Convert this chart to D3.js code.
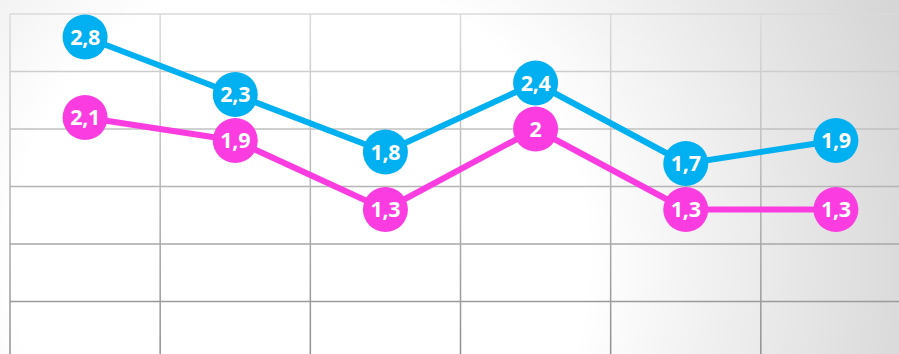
<!DOCTYPE html>
<html>
<head>
<meta charset="utf-8">
<script src="https://cdn.jsdelivr.net/npm/d3@7"></script>
<style>
  html, body { margin: 0; padding: 0; background: #fff; }
  svg { display: block; }
</style>
</head>
<body>
<svg id="chart" width="899" height="354"></svg>
<script>
// Six periods, two series
const categories = ["P1", "P2", "P3", "P4", "P5", "P6"];
const seriesBlue = [2.8, 2.3, 1.8, 2.4, 1.7, 1.9];
const seriesPink = [2.1, 1.9, 1.3, 2.0, 1.3, 1.3];
const gridValues = [0.5, 1, 1.5, 2, 2.5, 3];

const W = 899, H = 354;
const svg = d3.select("#chart");
const defs = svg.append("defs");

// soft vignette behind the plot
const bg = defs.append("radialGradient")
  .attr("id", "bg").attr("gradientUnits", "userSpaceOnUse")
  .attr("cx", 300).attr("cy", 260).attr("r", 640);
bg.append("stop").attr("offset", "0.45").attr("stop-color", "#ffffff");
bg.append("stop").attr("offset", "1").attr("stop-color", "#d6d6d6");
svg.append("rect").attr("width", W).attr("height", H).attr("fill", "url(#bg)");

// grid lines darken toward the bottom
const gv = defs.append("linearGradient")
  .attr("id", "gv").attr("gradientUnits", "userSpaceOnUse")
  .attr("x1", 0).attr("y1", 14).attr("x2", 0).attr("y2", 354);
gv.append("stop").attr("offset", "0").attr("stop-color", "#dcdcdc");
gv.append("stop").attr("offset", "1").attr("stop-color", "#8f8f8f");

const x = d3.scaleBand().domain(categories).range([10, 911]);
const y = d3.scaleLinear().domain([0, 3]).range([359, 14]);
const gridColor = d3.scaleLinear().domain([3, 0.5]).range(["#dadada", "#9a9a9a"]);

const grid = svg.append("g");
grid.selectAll("line.h").data(gridValues).join("line")
  .attr("class", "h")
  .attr("x1", 10).attr("x2", W)
  .attr("y1", d => y(d)).attr("y2", d => y(d))
  .attr("stroke", d => gridColor(d)).attr("stroke-width", 1.5);
grid.selectAll("line.v").data(categories).join("line")
  .attr("class", "v")
  .attr("x1", d => x(d)).attr("x2", d => x(d))
  .attr("y1", y(3)).attr("y2", H)
  .attr("stroke", "url(#gv)").attr("stroke-width", 1.5);

const fmt = d3.formatLocale({ decimal: ",", thousands: ".", grouping: [3], currency: ["", ""] }).format("~g");

const line = d3.line()
  .x((d, i) => x(categories[i]) + x.bandwidth() / 2)
  .y(d => y(d));

function drawSeries(values, color) {
  const g = svg.append("g");
  g.append("path").datum(values)
    .attr("d", line)
    .attr("fill", "none")
    .attr("stroke", color)
    .attr("stroke-width", 6)
    .attr("stroke-linejoin", "round");
  const pts = g.selectAll("g.pt").data(values).join("g")
    .attr("class", "pt")
    .attr("transform", (d, i) => `translate(${x(categories[i]) + x.bandwidth() / 2},${y(d)})`);
  pts.append("circle").attr("r", 22.5).attr("fill", color);
  pts.append("text")
    .attr("text-anchor", "middle")
    .attr("dy", "0.36em")
    .attr("fill", "#ffffff")
    .attr("font-family", "'Open Sans', sans-serif")
    .attr("font-weight", 700)
    .attr("font-size", 21.5)
    .attr("letter-spacing", -0.3)
    .text(d => fmt(d));
}

drawSeries(seriesBlue, "#00b0f0");
drawSeries(seriesPink, "#fa3ce0");
</script>
</body>
</html>
